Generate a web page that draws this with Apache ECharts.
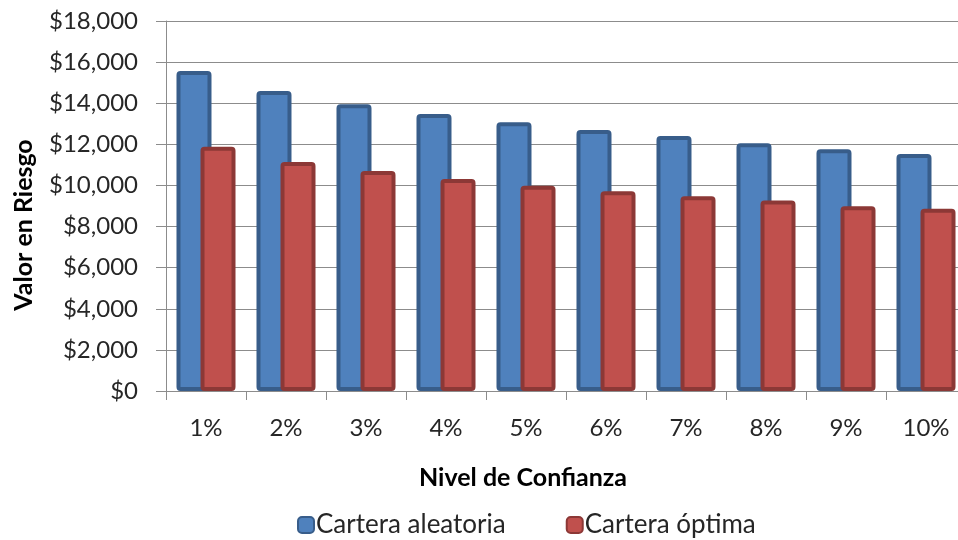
<!DOCTYPE html>
<html>
<head>
<meta charset="utf-8">
<script src="https://cdn.jsdelivr.net/npm/echarts@6/dist/echarts.min.js"></script>
<style>
  html, body { margin: 0; padding: 0; background: #fff; overflow: hidden; }
  /* the plot area runs a little past the right edge of the picture, so the chart is wider than the window */
  #chart { width: 966px; height: 540px; }
</style>
</head>
<body>
<div id="chart"></div>
<script>
// Nivel de confianza (categories)
const levels = ['1%', '2%', '3%', '4%', '5%', '6%', '7%', '8%', '9%', '10%'];

// Valor en riesgo per portfolio
const randomPortfolio = [15570, 14600, 13950, 13470, 13080, 12700, 12400, 12050, 11760, 11530];
const optimalPortfolio = [11880, 11140, 10700, 10310, 9980, 9720, 9470, 9270, 8990, 8870];

const seriesNames = ['Cartera aleatoria', 'Cartera óptima'];

const FONT = 'Lato';
const TEXT = '#262626';
const LINE = '#8c8c8c';

const chart = echarts.init(document.getElementById('chart'), null, { renderer: 'canvas' });

const money = (v) => '$' + v.toLocaleString('en-US');

chart.setOption({
    animation: false,
    backgroundColor: '#ffffff',
    textStyle: { fontFamily: FONT },
    grid: { left: 166, top: 21, right: 0, bottom: 149, containLabel: false },
    legend: {
        left: 292,
        top: 507,
        itemWidth: 16,
        itemHeight: 16,
        itemGap: 60,
        icon: 'roundRect',
        textStyle: { fontFamily: FONT, fontSize: 26, color: TEXT, padding: [0, 0, 0, -3] },
        data: seriesNames,
    },
    xAxis: {
        type: 'category',
        data: levels,
        axisLine: { lineStyle: { color: LINE, width: 1 } },
        axisTick: { show: true, length: 9, alignWithLabel: false, lineStyle: { color: LINE } },
        axisLabel: { color: TEXT, fontSize: 24, fontFamily: FONT, margin: 25 },
        splitLine: { show: false },
    },
    yAxis: {
        type: 'value',
        min: 0,
        max: 18000,
        interval: 2000,
        axisLine: { show: true, lineStyle: { color: LINE, width: 1 } },
        axisTick: { show: true, length: 10, lineStyle: { color: LINE } },
        axisLabel: { color: TEXT, fontSize: 24, fontFamily: FONT, margin: 28, formatter: money },
        splitLine: { lineStyle: { color: LINE, width: 1 } },
    },
    graphic: [
        {
            type: 'text',
            x: 24,
            y: 225,
            rotation: Math.PI / 2,
            style: {
                text: 'Valor en Riesgo',
                font: 'bold 25px ' + FONT,
                fill: '#000',
                align: 'center',
                verticalAlign: 'middle',
            },
        },
        {
            type: 'text',
            x: 523,
            y: 478,
            style: {
                text: 'Nivel de Confianza',
                font: 'bold 25px ' + FONT,
                fill: '#000',
                align: 'center',
                verticalAlign: 'middle',
            },
        },
    ],
    series: [
        {
            name: seriesNames[0],
            type: 'bar',
            data: randomPortfolio,
            barWidth: 35,
            barGap: '-31.4%',
            itemStyle: { color: '#4F81BD', borderColor: '#385D8A', borderWidth: 4, borderRadius: 2 },
        },
        {
            name: seriesNames[1],
            type: 'bar',
            data: optimalPortfolio,
            barWidth: 35,
            barGap: '-31.4%',
            itemStyle: { color: '#C0504D', borderColor: '#8C3836', borderWidth: 4, borderRadius: 2 },
        },
    ],
});
</script>
</body>
</html>
